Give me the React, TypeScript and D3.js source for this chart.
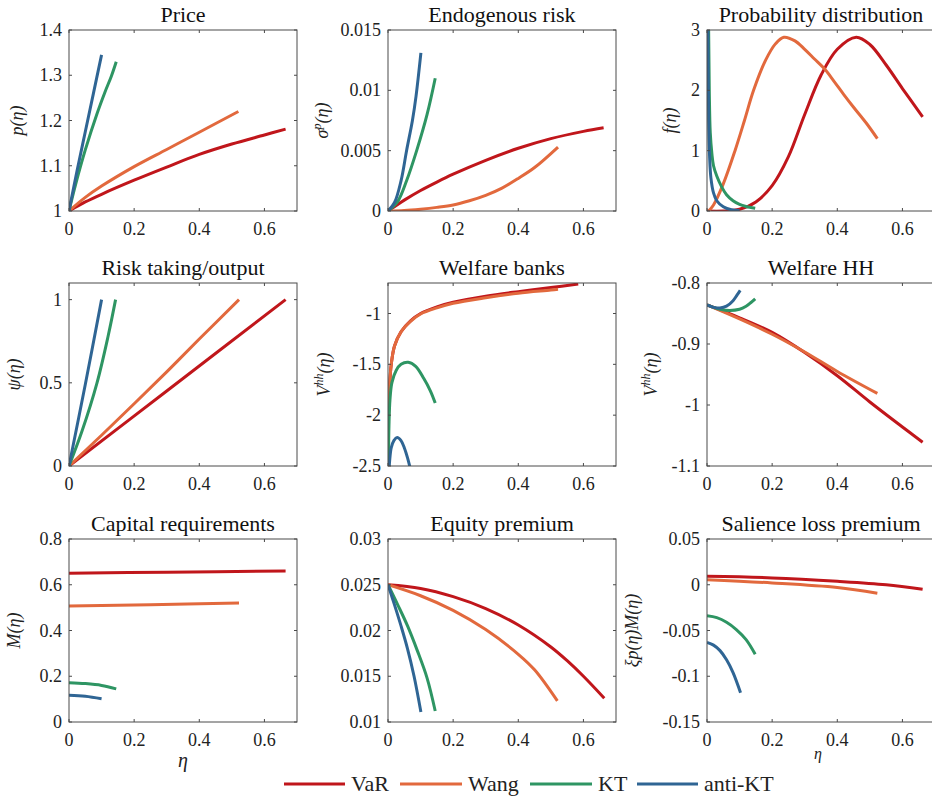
import React, { useEffect } from "react";
import * as d3 from "d3";

type Pt = [number, number];

// ---------- series names & colours ----------
const SERIES = ["VaR", "Wang", "KT", "anti-KT"];
const COLORS = ["#C0161B", "#E2693D", "#2E9563", "#2F6594"];

// ---------- axis ticks ----------
const X_TICKS = [0, 0.2, 0.4, 0.6];
const X_DOMAIN: Pt = [0, 0.7];

// ---------- Price ----------
const priceVaR: Pt[] = [[0, 1], [0.05, 1.02], [0.1, 1.037], [0.2, 1.068], [0.3, 1.097], [0.4, 1.125], [0.5, 1.148], [0.6, 1.168], [0.665, 1.181]];
const priceWang: Pt[] = [[0, 1], [0.05, 1.03], [0.1, 1.055], [0.2, 1.098], [0.3, 1.136], [0.4, 1.174], [0.52, 1.22]];
const priceKT: Pt[] = [[0, 1], [0.02, 1.058], [0.05, 1.135], [0.086, 1.215], [0.11, 1.262], [0.13, 1.298], [0.145, 1.33]];
const priceAKT: Pt[] = [[0, 1], [0.025, 1.09], [0.05, 1.175], [0.075, 1.26], [0.1, 1.345]];

// ---------- Endogenous risk ----------
const riskVaR: Pt[] = [[0, 0], [0.05, 0.0009], [0.1, 0.0017], [0.15, 0.0024], [0.2, 0.00305], [0.3, 0.0042], [0.4, 0.0052], [0.5, 0.006], [0.6, 0.0066], [0.662, 0.0069]];
const riskWang: Pt[] = [[0, 0], [0.05, 0.00004], [0.1, 0.00015], [0.15, 0.0003], [0.2, 0.0005], [0.25, 0.00085], [0.3, 0.0013], [0.35, 0.0019], [0.4, 0.0027], [0.45, 0.0036], [0.522, 0.0053]];
const riskKT: Pt[] = [[0, 0], [0.03, 0.0008], [0.057, 0.0025], [0.088, 0.005], [0.12, 0.008], [0.145, 0.011]];
const riskAKT: Pt[] = [[0, 0], [0.02, 0.0007], [0.04, 0.0025], [0.057, 0.005], [0.075, 0.0075], [0.086, 0.0095], [0.101, 0.0131]];

// ---------- Probability distribution ----------
const probVaR: Pt[] = [[0, 0], [0.05, 0], [0.1, 0.03], [0.15, 0.15], [0.2, 0.42], [0.25, 0.9], [0.3, 1.6], [0.35, 2.25], [0.4, 2.68], [0.458, 2.88], [0.5, 2.76], [0.55, 2.42], [0.6, 2.03], [0.662, 1.56]];
const probWang: Pt[] = [[0.005, 0], [0.02, 0.1], [0.05, 0.45], [0.086, 1.0], [0.115, 1.5], [0.143, 2.0], [0.18, 2.5], [0.21, 2.77], [0.236, 2.88], [0.27, 2.82], [0.3, 2.68], [0.33, 2.52], [0.36, 2.36], [0.39, 2.15], [0.42, 1.93], [0.45, 1.72], [0.49, 1.45], [0.523, 1.2]];
const probKT: Pt[] = [[0.002, 5], [0.005, 3], [0.007, 2], [0.01, 1.3], [0.015, 0.95], [0.02, 0.75], [0.03, 0.58], [0.045, 0.4], [0.06, 0.27], [0.08, 0.17], [0.1, 0.11], [0.12, 0.075], [0.148, 0.045]];
const probAKT: Pt[] = [[0.001, 5], [0.003, 3], [0.005, 1.5], [0.008, 0.9], [0.012, 0.55], [0.02, 0.3], [0.03, 0.17], [0.05, 0.07], [0.075, 0.02], [0.1, 0.01]];

// ---------- Risk taking/output ----------
const psiVaR: Pt[] = [[0, 0], [0.3, 0.451], [0.665, 1]];
const psiWang: Pt[] = [[0, 0], [0.1, 0.185], [0.2, 0.374], [0.3, 0.566], [0.4, 0.763], [0.522, 1.0]];
const psiKT: Pt[] = [[0, 0], [0.04, 0.21], [0.086, 0.5], [0.12, 0.78], [0.143, 1.0]];
const psiAKT: Pt[] = [[0, 0], [0.05, 0.49], [0.1, 1.0]];

// ---------- Welfare banks ----------
const wbVaR: Pt[] = [[0.0005, -2.5], [0.002, -1.95], [0.005, -1.7], [0.01, -1.5], [0.02, -1.32], [0.04, -1.18], [0.07, -1.07], [0.1, -1.0], [0.15, -0.935], [0.2, -0.89], [0.3, -0.83], [0.4, -0.785], [0.5, -0.745], [0.584, -0.71]];
const wbWang: Pt[] = [[0.0005, -2.5], [0.002, -1.95], [0.005, -1.7], [0.01, -1.5], [0.02, -1.32], [0.04, -1.18], [0.07, -1.075], [0.1, -1.005], [0.15, -0.945], [0.2, -0.9], [0.3, -0.845], [0.4, -0.8], [0.5, -0.77], [0.522, -0.762]];
const wbKT: Pt[] = [[0.001, -2.6], [0.003, -2.1], [0.006, -1.85], [0.012, -1.68], [0.025, -1.56], [0.04, -1.5], [0.062, -1.48], [0.085, -1.52], [0.11, -1.64], [0.13, -1.76], [0.145, -1.88]];
const wbAKT: Pt[] = [[0.001, -2.7], [0.005, -2.45], [0.01, -2.32], [0.018, -2.25], [0.028, -2.22], [0.04, -2.25], [0.05, -2.32], [0.06, -2.42], [0.068, -2.52], [0.075, -2.62]];

// ---------- Welfare HH ----------
const whVaR: Pt[] = [[0, -0.836], [0.1, -0.857], [0.2, -0.881], [0.3, -0.914], [0.4, -0.952], [0.5, -0.995], [0.6, -1.036], [0.662, -1.061]];
const whWang: Pt[] = [[0, -0.836], [0.1, -0.859], [0.2, -0.884], [0.3, -0.913], [0.4, -0.945], [0.523, -0.981]];
const whKT: Pt[] = [[0, -0.836], [0.02, -0.84], [0.04, -0.843], [0.07, -0.845], [0.1, -0.843], [0.12, -0.838], [0.135, -0.832], [0.148, -0.826]];
const whAKT: Pt[] = [[0, -0.836], [0.02, -0.84], [0.04, -0.841], [0.06, -0.838], [0.08, -0.829], [0.092, -0.82], [0.102, -0.812]];

// ---------- Capital requirements ----------
const capVaR: Pt[] = [[0, 0.65], [0.3, 0.655], [0.665, 0.66]];
const capWang: Pt[] = [[0, 0.507], [0.25, 0.513], [0.522, 0.52]];
const capKT: Pt[] = [[0, 0.172], [0.05, 0.168], [0.1, 0.16], [0.145, 0.145]];
const capAKT: Pt[] = [[0, 0.117], [0.05, 0.113], [0.1, 0.102]];

// ---------- Equity premium ----------
const eqVaR: Pt[] = [[0, 0.025], [0.1, 0.0246], [0.2, 0.0237], [0.3, 0.0224], [0.4, 0.0206], [0.5, 0.0182], [0.55, 0.0167], [0.6, 0.015], [0.664, 0.0126]];
const eqWang: Pt[] = [[0, 0.025], [0.1, 0.0238], [0.2, 0.0222], [0.3, 0.0201], [0.4, 0.0174], [0.45, 0.0157], [0.52, 0.0123]];
const eqKT: Pt[] = [[0, 0.025], [0.03, 0.0228], [0.06, 0.0205], [0.09, 0.0178], [0.12, 0.0148], [0.145, 0.0112]];
const eqAKT: Pt[] = [[0, 0.025], [0.02, 0.0228], [0.04, 0.0205], [0.06, 0.018], [0.08, 0.015], [0.101, 0.0111]];

// ---------- Salience loss premium ----------
const salVaR: Pt[] = [[0, 0.0092], [0.2, 0.0075], [0.4, 0.0038], [0.55, 0.0], [0.662, -0.005]];
const salWang: Pt[] = [[0, 0.0055], [0.2, 0.002], [0.4, -0.003], [0.523, -0.0092]];
const salKT: Pt[] = [[0, -0.034], [0.03, -0.036], [0.06, -0.041], [0.09, -0.049], [0.12, -0.06], [0.148, -0.076]];
const salAKT: Pt[] = [[0, -0.063], [0.02, -0.066], [0.04, -0.072], [0.06, -0.082], [0.08, -0.096], [0.103, -0.118]];

// ---------- panel titles / y ticks ----------
const TITLES = ["Price", "Endogenous risk", "Probability distribution", "Risk taking/output", "Welfare banks", "Welfare HH", "Capital requirements", "Equity premium", "Salience loss premium"];
const Y_DOMAINS: Pt[] = [[1, 1.4], [0, 0.015], [0, 3], [0, 1.1], [-2.5, -0.7], [-1.1, -0.8], [0, 0.8], [0.01, 0.03], [-0.15, 0.05]];
const Y_TICKS = [
  [1, 1.1, 1.2, 1.3, 1.4],
  [0, 0.005, 0.01, 0.015],
  [0, 1, 2, 3],
  [0, 0.5, 1],
  [-2.5, -2, -1.5, -1],
  [-1.1, -1, -0.9, -0.8],
  [0, 0.2, 0.4, 0.6, 0.8],
  [0.01, 0.015, 0.02, 0.025, 0.03],
  [-0.15, -0.1, -0.05, 0, 0.05],
];
const PANEL_DATA: Pt[][][] = [
  [priceVaR, priceWang, priceKT, priceAKT],
  [riskVaR, riskWang, riskKT, riskAKT],
  [probVaR, probWang, probKT, probAKT],
  [psiVaR, psiWang, psiKT, psiAKT],
  [wbVaR, wbWang, wbKT, wbAKT],
  [whVaR, whWang, whKT, whAKT],
  [capVaR, capWang, capKT, capAKT],
  [eqVaR, eqWang, eqKT, eqAKT],
  [salVaR, salWang, salKT, salAKT],
];

// ---------- layout ----------
const COL_LEFT = [69, 388, 707];
const PLOT_W = 228;
const ROW_TOP = [30, 283, 539];
const ROW_H = [181, 183, 183];
const YLABEL_OFF = [-51, -65, -36, -54, -63, -55, -54, 0, -74];

const FONT = "'Liberation Serif', 'Times New Roman', Times, serif";

function YLabel({ i }: { i: number }) {
  const it = { fontStyle: "italic" } as const;
  switch (i) {
    case 0: return <tspan style={it}>p(η)</tspan>;
    case 1: return <><tspan style={it}>σ</tspan><tspan style={it} fontSize={12} dy={-7}>p</tspan><tspan style={it} dy={7}>(η)</tspan></>;
    case 2: return <tspan style={it}>f(η)</tspan>;
    case 3: return <tspan style={it}>ψ(η)</tspan>;
    case 4:
    case 5: return <><tspan style={it}>V</tspan><tspan style={it} fontSize={12} dy={-7}>hh</tspan><tspan style={it} dy={7}>(η)</tspan></>;
    case 6: return <tspan style={it}>M(η)</tspan>;
    case 8: return <tspan style={it}>ξp(η)M(η)</tspan>;
    default: return null;
  }
}

function Panel({ i }: { i: number }) {
  const col = i % 3;
  const row = Math.floor(i / 3);
  const left = COL_LEFT[col];
  const top = ROW_TOP[row];
  const h = ROW_H[row];
  const x = d3.scaleLinear().domain(X_DOMAIN).range([left, left + PLOT_W]);
  const y = d3.scaleLinear().domain(Y_DOMAINS[i]).range([top + h, top]);
  const line = d3.line<Pt>().x((d) => x(d[0])).y((d) => y(d[1])).curve(d3.curveCatmullRom.alpha(0.5));
  const clipId = `clip${i}`;
  const axisColor = "#4a4a4a";
  const tl = 3;
  const txt = { fontFamily: FONT };
  return (
    <g>
      <defs>
        <clipPath id={clipId}>
          <rect x={left} y={top} width={PLOT_W} height={h} />
        </clipPath>
      </defs>
      <rect x={left} y={top} width={PLOT_W} height={h} fill="#fff" />
      <g clipPath={`url(#${clipId})`}>
        {PANEL_DATA[i].map((s, k) => (
          <path key={k} d={line(s) || ""} fill="none" stroke={COLORS[k]} strokeWidth={3} strokeLinejoin="round" />
        ))}
      </g>
      <rect x={left} y={top} width={PLOT_W} height={h} fill="none" stroke={axisColor} strokeWidth={1} />
      {X_TICKS.map((t) => (
        <g key={"x" + t}>
          <line x1={x(t)} x2={x(t)} y1={top + h} y2={top + h - tl} stroke={axisColor} />
          <line x1={x(t)} x2={x(t)} y1={top} y2={top + tl} stroke={axisColor} />
          <text x={x(t)} y={top + h + 24} textAnchor="middle" fontSize={18} style={txt} fill="#222">{String(t)}</text>
        </g>
      ))}
      {Y_TICKS[i].map((t) => (
        <g key={"y" + t}>
          <line x1={left} x2={left + tl} y1={y(t)} y2={y(t)} stroke={axisColor} />
          <line x1={left + PLOT_W} x2={left + PLOT_W - tl} y1={y(t)} y2={y(t)} stroke={axisColor} />
          <text x={left - 7} y={y(t)} dy="0.34em" textAnchor="end" fontSize={18} style={txt} fill="#222">{String(t)}</text>
        </g>
      ))}
      <text x={left + PLOT_W / 2} y={top - 8} textAnchor="middle" fontSize={22} style={txt} fill="#111">{TITLES[i]}</text>
      {YLABEL_OFF[i] !== 0 && (
        <text transform={`translate(${left + YLABEL_OFF[i]},${top + h / 2}) rotate(-90)`} textAnchor="middle" dy="0.3em" fontSize={18} style={txt} fill="#222">
          <YLabel i={i} />
        </text>
      )}
    </g>
  );
}

const LEGEND_LINES: Pt[] = [[284, 345], [400, 462], [530, 592], [637, 698]];

export default function App() {
  useEffect(() => {
    document.body.style.margin = "0";
    document.body.style.overflow = "hidden";
  }, []);
  const txt = { fontFamily: FONT };
  return (
    <svg width={932} height={799} style={{ display: "block", background: "#fff" }}>
      <rect width={932} height={799} fill="#fff" />
      {TITLES.map((_, i) => <Panel key={i} i={i} />)}
      <text x={183} y={767} textAnchor="middle" fontSize={20} fontStyle="italic" style={txt} fill="#222">η</text>
      <text x={818} y={759} textAnchor="middle" fontSize={16} fontStyle="italic" style={txt} fill="#222">η</text>
      <g>
        <rect x={270} y={768} width={520} height={31} fill="#fff" />
        {SERIES.map((s, k) => (
          <g key={s}>
            <line x1={LEGEND_LINES[k][0]} x2={LEGEND_LINES[k][1]} y1={784} y2={784} stroke={COLORS[k]} strokeWidth={3} />
            <text x={LEGEND_LINES[k][1] + 6} y={784} dy="0.33em" fontSize={22} style={txt} fill="#222">{s}</text>
          </g>
        ))}
      </g>
    </svg>
  );
}
